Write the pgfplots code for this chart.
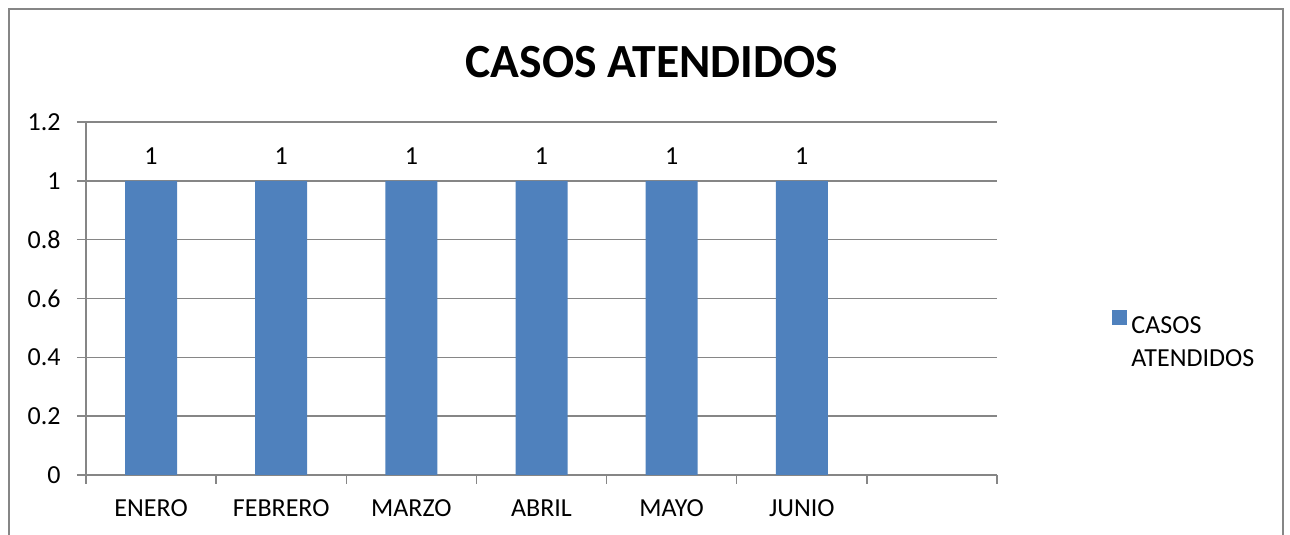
\documentclass[border=0pt]{standalone}
\usepackage{fontspec}
\setmainfont{Carlito}
\usepackage{pgfplots}
\pgfplotsset{compat=1.18}
\definecolor{barblue}{HTML}{4F81BD}
\definecolor{axgray}{HTML}{868686}
\begin{document}
\begin{tikzpicture}
\useasboundingbox (0,0) rectangle (645pt,267.5pt);
\draw[axgray, line width=0.7pt] (4.5pt,-20pt) -- (4.5pt,263pt) -- (641.5pt,263pt) -- (641.5pt,-20pt);
\node[font=\fontsize{23.8}{28}\selectfont\bfseries] at (326pt,236.5pt) {CASOS ATENDIDOS};
\begin{axis}[
  at={(43pt,30pt)}, anchor=south west,
  scale only axis, width=455.5pt, height=176.5pt,
  ybar, bar width=26pt,
  xmin=-0.5, xmax=6.5, ymin=0, ymax=1.2,
  xtick={0,1,2,3,4,5},
  xticklabels={ENERO,FEBRERO,MARZO,ABRIL,MAYO,JUNIO},
  minor xtick={-0.5,0.5,1.5,2.5,3.5,4.5,5.5,6.5},
  ytick={0,0.2,0.4,0.6,0.8,1,1.2},
  axis lines*=left,
  axis line style={axgray, line width=0.7pt},
  tick align=outside,
  major tick length=4.5pt,
  minor tick length=4.5pt,
  major x tick style={draw=none},
  minor x tick style={axgray, line width=0.7pt},
  major y tick style={axgray, line width=0.7pt},
  ymajorgrids,
  grid style={axgray, line width=0.7pt},
  /pgf/number format/assume math mode=true,
  tick label style={font=\fontsize{13}{15.6}\selectfont, black},
  yticklabel style={xshift=-4.7pt},
  xticklabel style={yshift=-4.2pt},
  nodes near coords,
  nodes near coords style={font=\fontsize{13}{15.6}\selectfont, black, yshift=4.7pt},
  legend style={at={(axis description cs:1.1263,0.48)}, anchor=north west, draw=none, fill=none,
    inner sep=0pt, font=\fontsize{13}{16.5}\selectfont},
]
\addplot[fill=barblue, draw=none,
  legend image code/.code={\fill[barblue] (-1.5pt,-1pt) rectangle (6pt,6.5pt);}]
  coordinates {(0,1) (1,1) (2,1) (3,1) (4,1) (5,1)};
\addlegendentry{\begin{tabular}[t]{@{}l@{}}CASOS\\ATENDIDOS\end{tabular}}
\end{axis}
\end{tikzpicture}
\end{document}
